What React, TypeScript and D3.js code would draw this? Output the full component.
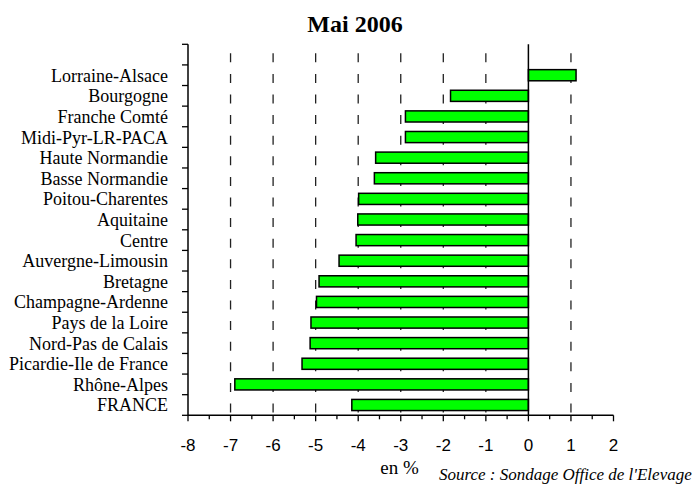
import React from 'react';
import * as d3 from 'd3';

// regions, top to bottom (first slot of the axis is left empty)
const regions = [
  'Lorraine-Alsace',
  'Bourgogne',
  'Franche Comté',
  'Midi-Pyr-LR-PACA',
  'Haute Normandie',
  'Basse Normandie',
  'Poitou-Charentes',
  'Aquitaine',
  'Centre',
  'Auvergne-Limousin',
  'Bretagne',
  'Champagne-Ardenne',
  'Pays de la Loire',
  'Nord-Pas de Calais',
  'Picardie-Ile de France',
  'Rhône-Alpes',
  'FRANCE',
];
const changes = [1.12, -1.83, -2.89, -2.89, -3.59, -3.62, -3.99, -4.01, -4.05, -4.45, -4.92, -4.98, -5.11, -5.13, -5.32, -6.9, -4.15];
const xTicks = [-8, -7, -6, -5, -4, -3, -2, -1, 0, 1, 2];
const gridTicks = [-7, -6, -5, -4, -3, -2, -1, 1];

const W = 695;
const H = 485;
const left = 188;
const right = 613.5;
const top = 44.3;
const bottom = 415.3;
const serif = '"Liberation Serif", "Times New Roman", serif';
const sans = '"Liberation Sans", Arial, sans-serif';

const App = () => {
  const x = d3.scaleLinear().domain([-8, 2]).range([left, right]);
  const slots = ['', ...regions];
  const pad = 0.46;
  const y = d3.scaleBand<string>().domain(slots).range([top, bottom])
    .paddingInner(pad).paddingOuter(pad / 2);
  const step = y.step();
  const minor = d3.range(-7.5, 2, 1);

  return (
    <svg width={W} height={H} style={{ position: 'absolute', left: 0, top: 0, background: '#fff' }}>
      <text x={355} y={32} textAnchor="middle" fontFamily={serif} fontWeight="bold" fontSize={24}>Mai 2006</text>

      {/* dashed verticals */}
      {gridTicks.map(t => (
        <line key={'g' + t} x1={x(t)} x2={x(t)} y1={top} y2={bottom}
          stroke="#222" strokeWidth={1.3} strokeDasharray="9 11.6" strokeDashoffset={11.6} />
      ))}

      {/* bars */}
      {regions.map((r, i) => {
        const v = changes[i];
        return (
          <rect key={r} x={x(Math.min(0, v))} y={y(r)} width={Math.abs(x(v) - x(0))} height={y.bandwidth()}
            fill="#00ff00" stroke="#000" strokeWidth={1.5} />
        );
      })}

      {/* zero line */}
      <line x1={x(0)} x2={x(0)} y1={top} y2={bottom} stroke="#000" strokeWidth={1.5} />

      {/* y axis */}
      <line x1={left} x2={left} y1={top} y2={bottom} stroke="#000" strokeWidth={1.5} />
      {d3.range(slots.length + 1).map(i => (
        <line key={'yt' + i} x1={left - 6} x2={left} y1={top + i * step} y2={top + i * step} stroke="#000" strokeWidth={1.3} />
      ))}
      {regions.map(r => (
        <text key={'l' + r} x={168} y={(y(r) ?? 0) + y.bandwidth() / 2 + 6.5} textAnchor="end"
          fontFamily={serif} fontSize={18}>{r}</text>
      ))}

      {/* x axis */}
      <line x1={left} x2={right} y1={bottom} y2={bottom} stroke="#000" strokeWidth={1.5} />
      {xTicks.map(t => (
        <g key={'xt' + t}>
          <line x1={x(t)} x2={x(t)} y1={bottom} y2={bottom + 6} stroke="#000" strokeWidth={1.3} />
          <text x={x(t)} y={451} textAnchor="middle" fontFamily={sans} fontSize={17}>{t}</text>
        </g>
      ))}
      {minor.map(t => (
        <line key={'m' + t} x1={x(t)} x2={x(t)} y1={bottom} y2={bottom + 4} stroke="#000" strokeWidth={1.3} />
      ))}

      <text x={399.5} y={473.5} textAnchor="middle" fontFamily={serif} fontSize={19}>en %</text>
      <text x={439} y={480} fontFamily={serif} fontStyle="italic" fontSize={17}>Source : Sondage Office de l'Elevage</text>
    </svg>
  );
};

export default App;
